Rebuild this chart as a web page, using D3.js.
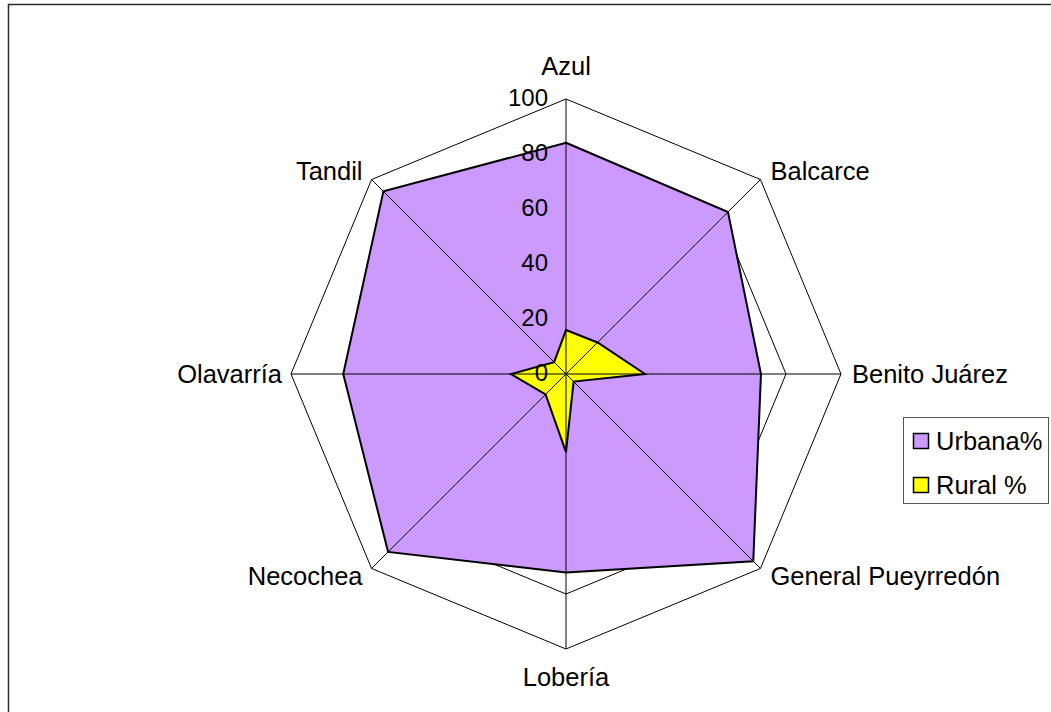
<!DOCTYPE html>
<html>
<head>
<meta charset="utf-8">
<script src="https://cdn.jsdelivr.net/npm/d3@7"></script>
<style>
html,body{margin:0;padding:0;background:#fff;}
svg{display:block;}
text{font-family:"Liberation Sans",Arial,sans-serif;fill:#000;}
</style>
</head>
<body>
<script>
const categories = ["Azul","Balcarce","Benito Juárez","General Pueyrredón","Lobería","Necochea","Olavarría","Tandil"];
const urbana = [84.1, 83.3, 70.9, 96.3, 72.2, 91.5, 81.0, 93.9];
const rural = [16.0, 16.2, 28.7, 3.9, 28.4, 10.5, 20.0, 6.1];
const seriesNames = ["Urbana%", "Rural %"];
const tickValues = [0, 20, 40, 60, 80, 100];

const W = 1051, H = 712;
const cx = 566, cy = 374, R = 275;
const svg = d3.select("body").append("svg").attr("width", W).attr("height", H);

svg.append("rect").attr("x", 8.5).attr("y", 4.5).attr("width", W + 10).attr("height", H + 10)
  .attr("fill", "#fff").attr("stroke", "#2a2a2a").attr("stroke-width", 1.5);

const r = d3.scaleLinear().domain([0, 100]).range([0, R]);
const ang = d3.scalePoint().domain(categories).range([0, 2 * Math.PI * (categories.length - 1) / categories.length]);
const g = svg.append("g").attr("transform", `translate(${cx},${cy})`);

const pt = (c, v) => [r(v) * Math.sin(ang(c)), -r(v) * Math.cos(ang(c))];
const radial = d3.line().curve(d3.curveLinearClosed);

// rings
tickValues.filter(t => t > 0).forEach(t => {
  g.append("path").attr("d", radial(categories.map(c => pt(c, t))))
    .attr("fill", "none").attr("stroke", "#000").attr("stroke-width", 1);
});

// series
const colors = ["#CC99FF", "#FFFF00"];
[urbana, rural].forEach((vals, i) => {
  g.append("path").attr("d", radial(categories.map((c, j) => pt(c, vals[j]))))
    .attr("fill", colors[i]).attr("stroke", "#000").attr("stroke-width", 2).attr("stroke-linejoin", "miter");
});

// spokes
categories.forEach(c => {
  const p = pt(c, 100);
  g.append("line").attr("x1", 0).attr("y1", 0).attr("x2", p[0]).attr("y2", p[1])
    .attr("stroke", "#000").attr("stroke-width", 1);
});

// tick labels
tickValues.forEach(t => {
  g.append("text").attr("x", -18).attr("y", -r(t) - 1).attr("dy", "0.35em")
    .attr("text-anchor", "end").attr("font-size", 24).text(t);
});

// category labels
const LFS = 25.5;
categories.forEach(c => {
  const a = ang(c);
  const p = pt(c, 100);
  const s = Math.sin(a), co = Math.cos(a);
  const vert = Math.abs(s) < 0.01;
  const horiz = Math.abs(co) < 0.01;
  let anchor = vert ? "middle" : (s > 0 ? "start" : "end");
  let x = p[0] + (vert ? 0 : (s > 0 ? (horiz ? 11 : 10) : (horiz ? -9 : -9)));
  let y = p[1];
  let dy = "0.35em";
  if (vert) { y = co > 0 ? p[1] - 24 : p[1] + 37; dy = "0em"; }
  else if (!horiz) { y = p[1] + (co > 0 ? -8 : 8); }
  g.append("text").attr("x", x).attr("y", y).attr("dy", dy)
    .attr("text-anchor", anchor).attr("font-size", LFS).text(c);
});

// legend
const lg = svg.append("g").attr("transform", "translate(903,417)");
lg.append("rect").attr("x", 0.5).attr("y", 0.5).attr("width", 145).attr("height", 86)
  .attr("fill", "#fff").attr("stroke", "#555").attr("stroke-width", 1);
seriesNames.forEach((n, i) => {
  const yy = 24 + i * 44;
  lg.append("rect").attr("x", 10.5).attr("y", yy - 7.5).attr("width", 15).attr("height", 15)
    .attr("fill", colors[i]).attr("stroke", "#000").attr("stroke-width", 1.5);
  lg.append("text").attr("x", 33).attr("y", yy).attr("dy", "0.35em").attr("font-size", LFS).text(n);
});
</script>
</body>
</html>
